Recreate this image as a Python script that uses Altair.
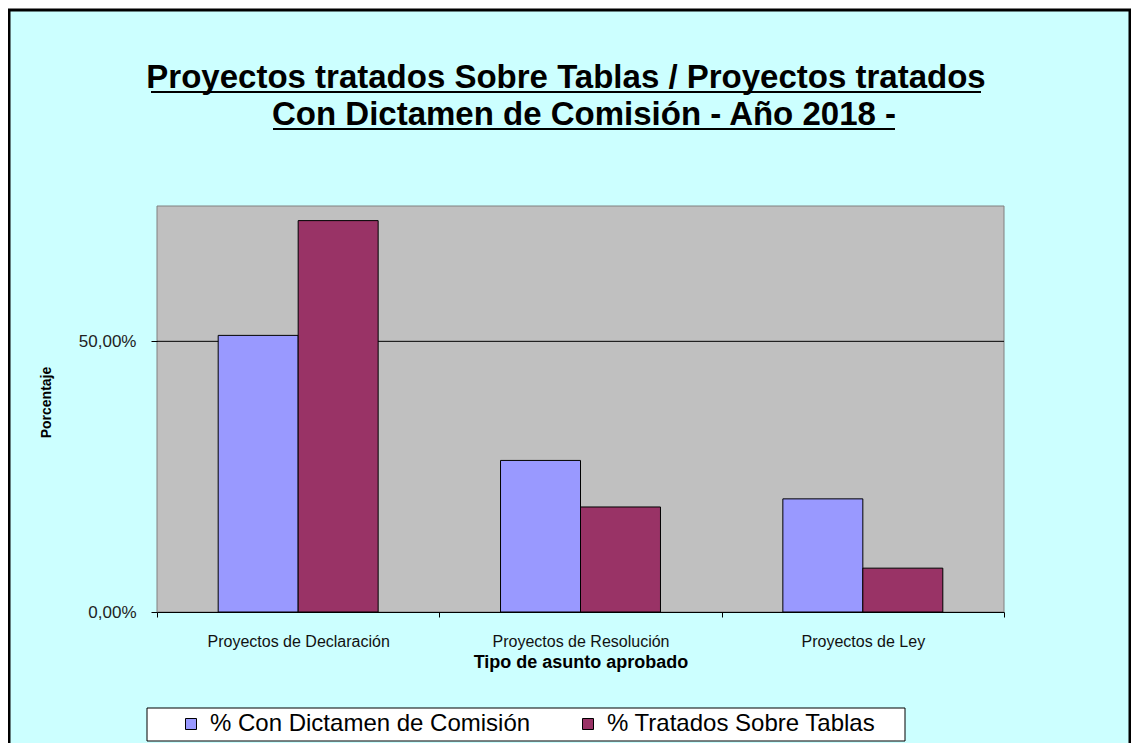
import altair as alt
import pandas as pd

# ---- data ----
categorias = ["Proyectos de Declaración", "Proyectos de Resolución", "Proyectos de Ley"]
series = ["% Con Dictamen de Comisión", "% Tratados Sobre Tablas"]
con_dictamen = [0.511, 0.280, 0.209]
sobre_tablas = [0.723, 0.194, 0.081]
colores = ["#9999FF", "#993366"]
titulo = ["Proyectos tratados Sobre Tablas / Proyectos tratados",
          "Con Dictamen de Comisión - Año 2018 -"]
ticks_y = [0.0, 0.5]
titulo_x = "Tipo de asunto aprobado"
titulo_y = "Porcentaje"

rows = []
for c, a, b in zip(categorias, con_dictamen, sobre_tablas):
    rows.append({"Categoria": c, "Serie": series[0], "Valor": a})
    rows.append({"Categoria": c, "Serie": series[1], "Valor": b})
df = pd.DataFrame(rows)
uno = pd.DataFrame({"k": [0]})
grid_df = pd.DataFrame({"Valor": [0.5]})

W, H = 847, 406
FONT = "Liberation Sans"

y_enc = alt.Y(
    "Valor:Q",
    scale=alt.Scale(domain=[0, 0.75], nice=False, zero=True),
    axis=alt.Axis(
        values=ticks_y,
        labelExpr="replace(format(datum.value, '.2%'), '.', ',')",
        title=titulo_y, titleFont=FONT, titleFontSize=14, titleFontWeight="bold",
        titleColor="black", titleX=-104, titleY=196, titleAngle=270,
        titleAlign="center", titleBaseline="bottom",
        domain=False, grid=False, tickColor="black", tickSize=6,
        labelFont=FONT, labelFontSize=17, labelColor="#222222", labelPadding=15,
        zindex=1,
    ),
)

frame = alt.Chart(uno).mark_rect(fill="#CCFFFF", stroke="black", strokeWidth=3).encode(
    x=alt.value(-148), x2=alt.value(973), y=alt.value(-196), y2=alt.value(560))

plot_bg = alt.Chart(uno).mark_rect(fill="#C0C0C0", stroke="#808080", strokeWidth=1).encode(
    x=alt.value(0), x2=alt.value(W), y=alt.value(0), y2=alt.value(H))

grid = alt.Chart(grid_df).mark_rule(color="black", strokeWidth=1).encode(y=y_enc)

bars = alt.Chart(df).mark_bar(stroke="black", strokeWidth=1, opacity=1).encode(
    x=alt.X("Categoria:N", sort=categorias,
            scale=alt.Scale(paddingInner=0, paddingOuter=0),
            axis=alt.Axis(title=titulo_x, labelAngle=0, tickBand="extent", tickSize=5,
                          tickColor="black", domainColor="black", grid=False,
                          labelFont=FONT, labelFontSize=16, labelColor="#111111",
                          labelPadding=16, labelLimit=400,
                          titleFont=FONT, titleFontSize=18, titleFontWeight="bold",
                          titleColor="black", titlePadding=4, zindex=1)),
    xOffset=alt.XOffset("Serie:N", sort=series,
                        scale=alt.Scale(paddingInner=0, paddingOuter=0.765)),
    y=y_enc,
    color=alt.Color("Serie:N", sort=series,
                    scale=alt.Scale(domain=series, range=colores),
                    legend=alt.Legend(orient="none", legendX=22, legendY=506,
                                      direction="horizontal", title=None,
                                      symbolType="square", symbolSize=121,
                                      symbolStrokeColor="black", symbolStrokeWidth=1,
                                      symbolOpacity=1, labelFont=FONT, labelFontSize=24,
                                      labelColor="black", labelOffset=7,
                                      columnPadding=45, labelLimit=600, zindex=1)),
)

t1 = alt.Chart(pd.DataFrame({"t": [titulo[0]]})).mark_text(
    font=FONT, fontSize=33, fontWeight="bold", color="black",
    align="center", baseline="alphabetic").encode(
    text="t:N", x=alt.value(409), y=alt.value(-118))
t2 = alt.Chart(pd.DataFrame({"t": [titulo[1]]})).mark_text(
    font=FONT, fontSize=33, fontWeight="bold", color="black",
    align="center", baseline="alphabetic").encode(
    text="t:N", x=alt.value(427), y=alt.value(-81))
u1 = alt.Chart(uno).mark_rule(color="black", strokeWidth=2).encode(
    x=alt.value(-6), x2=alt.value(824), y=alt.value(-114))
u2 = alt.Chart(uno).mark_rule(color="black", strokeWidth=2).encode(
    x=alt.value(116), x2=alt.value(738), y=alt.value(-77))

legend_box = alt.Chart(uno).mark_rect(fill="white", stroke="black", strokeWidth=1).encode(
    x=alt.value(-10), x2=alt.value(748), y=alt.value(502), y2=alt.value(535))

chart = alt.layer(frame, plot_bg, grid, bars, t1, t2, u1, u2, legend_box).properties(
    width=W, height=H,
    autosize=alt.AutoSizeParams(type="none"),
    padding={"left": 149, "top": 198, "right": 127, "bottom": 131},
    background="white",
).configure_view(stroke="transparent")

chart.save("out.html", embed_options={"renderer": "svg", "actions": False})
